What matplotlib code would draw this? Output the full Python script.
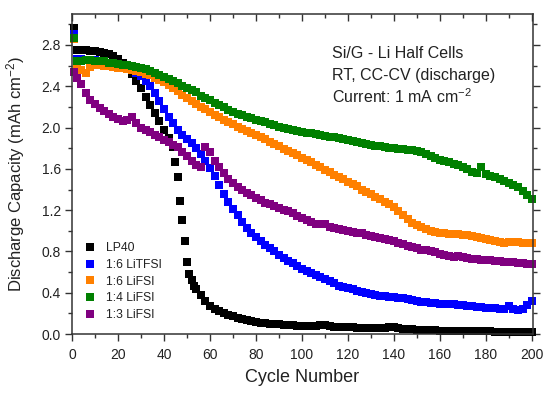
import matplotlib
matplotlib.use("Agg")
import matplotlib.pyplot as plt

plt.rcParams['font.family'] = ['Liberation Sans', 'DejaVu Sans']
plt.rcParams['mathtext.fontset'] = 'custom'
plt.rcParams['mathtext.rm'] = 'Liberation Sans'
plt.rcParams['mathtext.it'] = 'Liberation Sans:italic'

# cycle numbers (every second cycle, plus the first one)
cycles = [1] + list(range(2, 201, 2))
# LP40 is sampled every cycle through its sudden drop
cycles_lp40 = [1] + list(range(2, 43, 2)) + list(range(44, 54)) + list(range(54, 201, 2))

lp40 = [2.96,
        2.75, 2.75, 2.75, 2.74, 2.74, 2.73, 2.72, 2.71, 2.69, 2.66,
        2.63, 2.58, 2.52, 2.45, 2.38, 2.30, 2.22, 2.14, 2.06, 1.98, 1.90,
        1.81, 1.67, 1.52, 1.29, 1.10, 0.90, 0.70, 0.58, 0.52, 0.47,
        0.44, 0.38, 0.32, 0.27, 0.24, 0.22, 0.20, 0.18, 0.17, 0.16, 0.15, 0.14, 0.13, 0.12,
        0.11, 0.11, 0.10, 0.10, 0.10, 0.09, 0.09, 0.09, 0.08, 0.08,
        0.08, 0.08, 0.08, 0.09, 0.09, 0.08, 0.07, 0.07, 0.07, 0.07,
        0.07, 0.06, 0.06, 0.06, 0.06, 0.06, 0.06, 0.06, 0.07, 0.07,
        0.06, 0.05, 0.05, 0.05, 0.04, 0.04, 0.04, 0.04, 0.04, 0.03,
        0.03, 0.03, 0.03, 0.03, 0.03, 0.03, 0.03, 0.03, 0.03, 0.03,
        0.03, 0.02, 0.02, 0.02, 0.02, 0.02, 0.02, 0.02, 0.02, 0.02]

litfsi_16 = [2.91,
             2.66, 2.66, 2.65, 2.65, 2.65, 2.64, 2.64, 2.63, 2.63, 2.62,
             2.61, 2.59, 2.56, 2.53, 2.50, 2.45, 2.40, 2.33, 2.26, 2.18,
             2.10, 2.04, 1.98, 1.93, 1.89, 1.85, 1.80, 1.74, 1.68, 1.61,
             1.53, 1.44, 1.36, 1.28, 1.21, 1.15, 1.09, 1.03, 0.98, 0.94,
             0.90, 0.86, 0.83, 0.80, 0.77, 0.74, 0.71, 0.69, 0.66, 0.63,
             0.61, 0.59, 0.57, 0.55, 0.53, 0.51, 0.49, 0.47, 0.46, 0.45,
             0.44, 0.42, 0.41, 0.40, 0.39, 0.38, 0.37, 0.37, 0.36, 0.36,
             0.35, 0.35, 0.34, 0.33, 0.32, 0.31, 0.31, 0.30, 0.30, 0.29,
             0.29, 0.29, 0.29, 0.28, 0.28, 0.27, 0.27, 0.26, 0.26, 0.25,
             0.25, 0.25, 0.24, 0.24, 0.27, 0.24, 0.23, 0.24, 0.28, 0.32]

lifsi_16 = [2.86,
            2.58, 2.56, 2.53, 2.59, 2.61, 2.61, 2.60, 2.60, 2.59, 2.58,
            2.58, 2.57, 2.56, 2.55, 2.54, 2.52, 2.51, 2.48, 2.46, 2.44,
            2.41, 2.38, 2.35, 2.32, 2.29, 2.26, 2.23, 2.20, 2.18, 2.15,
            2.12, 2.10, 2.07, 2.05, 2.03, 2.01, 1.99, 1.97, 1.95, 1.93,
            1.91, 1.89, 1.86, 1.84, 1.82, 1.79, 1.77, 1.75, 1.73, 1.71,
            1.69, 1.67, 1.64, 1.62, 1.59, 1.57, 1.54, 1.52, 1.50, 1.47,
            1.45, 1.43, 1.40, 1.38, 1.36, 1.33, 1.31, 1.28, 1.26, 1.23,
            1.19, 1.15, 1.11, 1.08, 1.06, 1.04, 1.02, 1.00, 0.99, 0.98,
            0.98, 0.97, 0.97, 0.97, 0.96, 0.96, 0.95, 0.94, 0.93, 0.92,
            0.91, 0.90, 0.89, 0.88, 0.89, 0.89, 0.89, 0.88, 0.88, 0.88]

lifsi_14 = [2.87,
            2.64, 2.64, 2.65, 2.65, 2.64, 2.64, 2.64, 2.63, 2.63, 2.62,
            2.61, 2.61, 2.60, 2.59, 2.58, 2.57, 2.55, 2.53, 2.51, 2.49,
            2.47, 2.45, 2.43, 2.40, 2.38, 2.36, 2.34, 2.31, 2.29, 2.27,
            2.24, 2.22, 2.20, 2.17, 2.15, 2.13, 2.12, 2.10, 2.09, 2.07,
            2.06, 2.05, 2.03, 2.02, 2.01, 2.00, 1.99, 1.98, 1.97, 1.96,
            1.95, 1.95, 1.94, 1.93, 1.92, 1.91, 1.91, 1.90, 1.89, 1.88,
            1.87, 1.86, 1.85, 1.84, 1.83, 1.82, 1.82, 1.81, 1.80, 1.80,
            1.79, 1.79, 1.78, 1.78, 1.77, 1.76, 1.74, 1.72, 1.71, 1.69,
            1.68, 1.67, 1.65, 1.64, 1.62, 1.60, 1.57, 1.56, 1.62, 1.55,
            1.53, 1.52, 1.50, 1.48, 1.46, 1.44, 1.42, 1.39, 1.35, 1.31]

lifsi_13 = [2.54,
            2.48, 2.42, 2.33, 2.27, 2.23, 2.19, 2.16, 2.13, 2.10, 2.08,
            2.06, 2.07, 2.10, 2.04, 2.00, 1.98, 1.96, 1.93, 1.91, 1.88,
            1.86, 1.83, 1.81, 1.76, 1.72, 1.68, 1.64, 1.62, 1.81, 1.76,
            1.68, 1.62, 1.56, 1.50, 1.46, 1.42, 1.40, 1.37, 1.35, 1.32,
            1.30, 1.27, 1.26, 1.24, 1.22, 1.20, 1.19, 1.17, 1.14, 1.12,
            1.10, 1.09, 1.07, 1.07, 1.07, 1.04, 1.03, 1.02, 1.01, 1.00,
            0.99, 0.98, 0.98, 0.96, 0.95, 0.94, 0.93, 0.92, 0.91, 0.90,
            0.88, 0.87, 0.85, 0.84, 0.83, 0.81, 0.81, 0.80, 0.79, 0.78,
            0.77, 0.76, 0.75, 0.76, 0.75, 0.74, 0.73, 0.73, 0.72, 0.72,
            0.72, 0.71, 0.71, 0.70, 0.70, 0.70, 0.69, 0.69, 0.68, 0.68]

labels = ["LP40", "1:6 LiTFSI", "1:6 LiFSI", "1:4 LiFSI", "1:3 LiFSI"]
colors = ["black", "#0000ff", "#ff8000", "#008000", "#800080"]

fig = plt.figure(figsize=(5.47, 3.93), dpi=100)
ax = fig.add_axes([0.1316, 0.15, 0.8428, 0.8144])

series = [(cycles_lp40, lp40), (cycles, litfsi_16), (cycles, lifsi_16),
          (cycles, lifsi_14), (cycles, lifsi_13)]
for (x, y), lab, col in zip(series, labels, colors):
    ax.plot(x, y, linestyle='none', marker='s', markersize=5.2,
            markeredgewidth=0, color=col, label=lab, clip_on=False)

ax.set_xlim(0, 200.5)
ax.set_ylim(0, 3.1)
ax.set_xticks(range(0, 201, 20))
ax.set_xticks(range(0, 201, 10), minor=True)
ax.set_yticks([0.0, 0.4, 0.8, 1.2, 1.6, 2.0, 2.4, 2.8])
ax.set_yticklabels(["0.0", "0.4", "0.8", "1.2", "1.6", "2.0", "2.4", "2.8"])
ax.set_yticks([i * 0.2 for i in range(16)], minor=True)

txt = '#222222'
for s in ax.spines.values():
    s.set_linewidth(1.1)
    s.set_color('#333333')
ax.tick_params(which='both', direction='out', top=True, right=True,
               colors='#333333', labelcolor=txt, labelsize=10, width=1.0)
ax.tick_params(which='major', length=5)
ax.tick_params(which='minor', length=3)
ax.tick_params(axis='x', which='both', pad=5)
ax.tick_params(axis='y', which='both', pad=3)
# top ticks point into the plot
for t in ax.xaxis.get_major_ticks() + ax.xaxis.get_minor_ticks():
    t.tick2line.set_marker(3)

ax.set_xlabel("Cycle Number", fontsize=13, color=txt, labelpad=5)
ax.set_ylabel("Discharge Capacity (mAh cm$^{\\mathrm{-2}}$)", fontsize=12, color=txt)
ax.yaxis.set_label_coords(-0.098, 0.5)

ax.text(0.564, 0.878, "Si/G - Li Half Cells", transform=ax.transAxes,
        fontsize=11.5, color=txt, va='center')
ax.text(0.564, 0.809, "RT, CC-CV (discharge)", transform=ax.transAxes,
        fontsize=11.5, color=txt, va='center')
ax.text(0.564, 0.741, "Current: 1 mA cm$^{\\mathrm{-2}}$", transform=ax.transAxes,
        fontsize=11.5, color=txt, va='center')

leg = ax.legend(loc='lower left', bbox_to_anchor=(0.026, 0.04), frameon=False,
                fontsize=8.7, handlelength=1.0, handletextpad=0.8,
                labelspacing=0.4, borderpad=0, borderaxespad=0, markerscale=1.0)
for t in leg.get_texts():
    t.set_color(txt)

fig.savefig("out.png", dpi=100)
